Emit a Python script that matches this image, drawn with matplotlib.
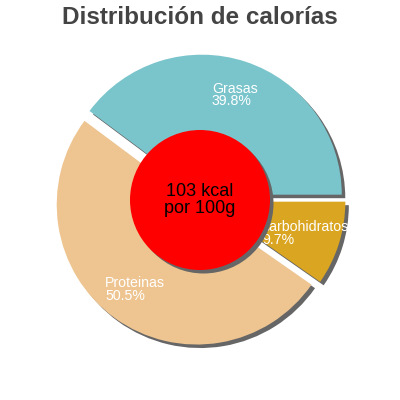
import matplotlib
matplotlib.use("Agg")
import matplotlib.pyplot as plt
from matplotlib.patches import Circle

labels = ["Grasas", "Proteinas", "carbohidratos"]
values = [39.8, 50.5, 9.7]
colors = ["#7AC4CC", "#EEC591", "#DAA520"]
title = "Distribución de calorías"
center_text = "103 kcal\npor 100g"

plt.rcParams['font.family'] = ['Liberation Sans', 'DejaVu Sans']

fig = plt.figure(figsize=(4, 4), dpi=100)
ax = fig.add_axes([0, 0, 1, 1])
lim = 200 / 140

explode = [0.04] * len(values)
sh = 0.025

# shadow
ax.pie(values, explode=explode, startangle=0, counterclock=True,
       colors=['#666666'] * len(values), center=(sh, -sh),
       wedgeprops=dict(linewidth=0), frame=True)

# slices with labels
pct = [f"{l}\n{v}%" for l, v in zip(labels, values)]
wedges, texts = ax.pie(values, explode=explode, startangle=0, counterclock=True,
                       colors=colors, labels=pct, labeldistance=0.75,
                       wedgeprops=dict(linewidth=0), frame=True,
                       textprops=dict(color='white', fontsize=10.2))
for t in texts:
    t.set_horizontalalignment('center')
    t.set_verticalalignment('center')
    t.set_multialignment('left')
    t.set_linespacing(0.9)

ax.set_xlim(-lim, lim)
ax.set_ylim(-lim, lim)
ax.set_aspect('equal')
ax.axis('off')

ax.add_patch(Circle((sh, -sh), 0.5, color='#666666', zorder=5, lw=0))
ax.add_patch(Circle((0, 0), 0.5, color='#FF0000', zorder=6, lw=0))
ax.text(0, 0, center_text, ha='center', va='center', fontsize=13,
        color='black', linespacing=0.95, zorder=7)

fig.text(0.5, 0.955, title, ha='center', va='center', fontsize=17.5,
         fontweight='bold', color='#444444')

fig.savefig("out.png", dpi=100)
